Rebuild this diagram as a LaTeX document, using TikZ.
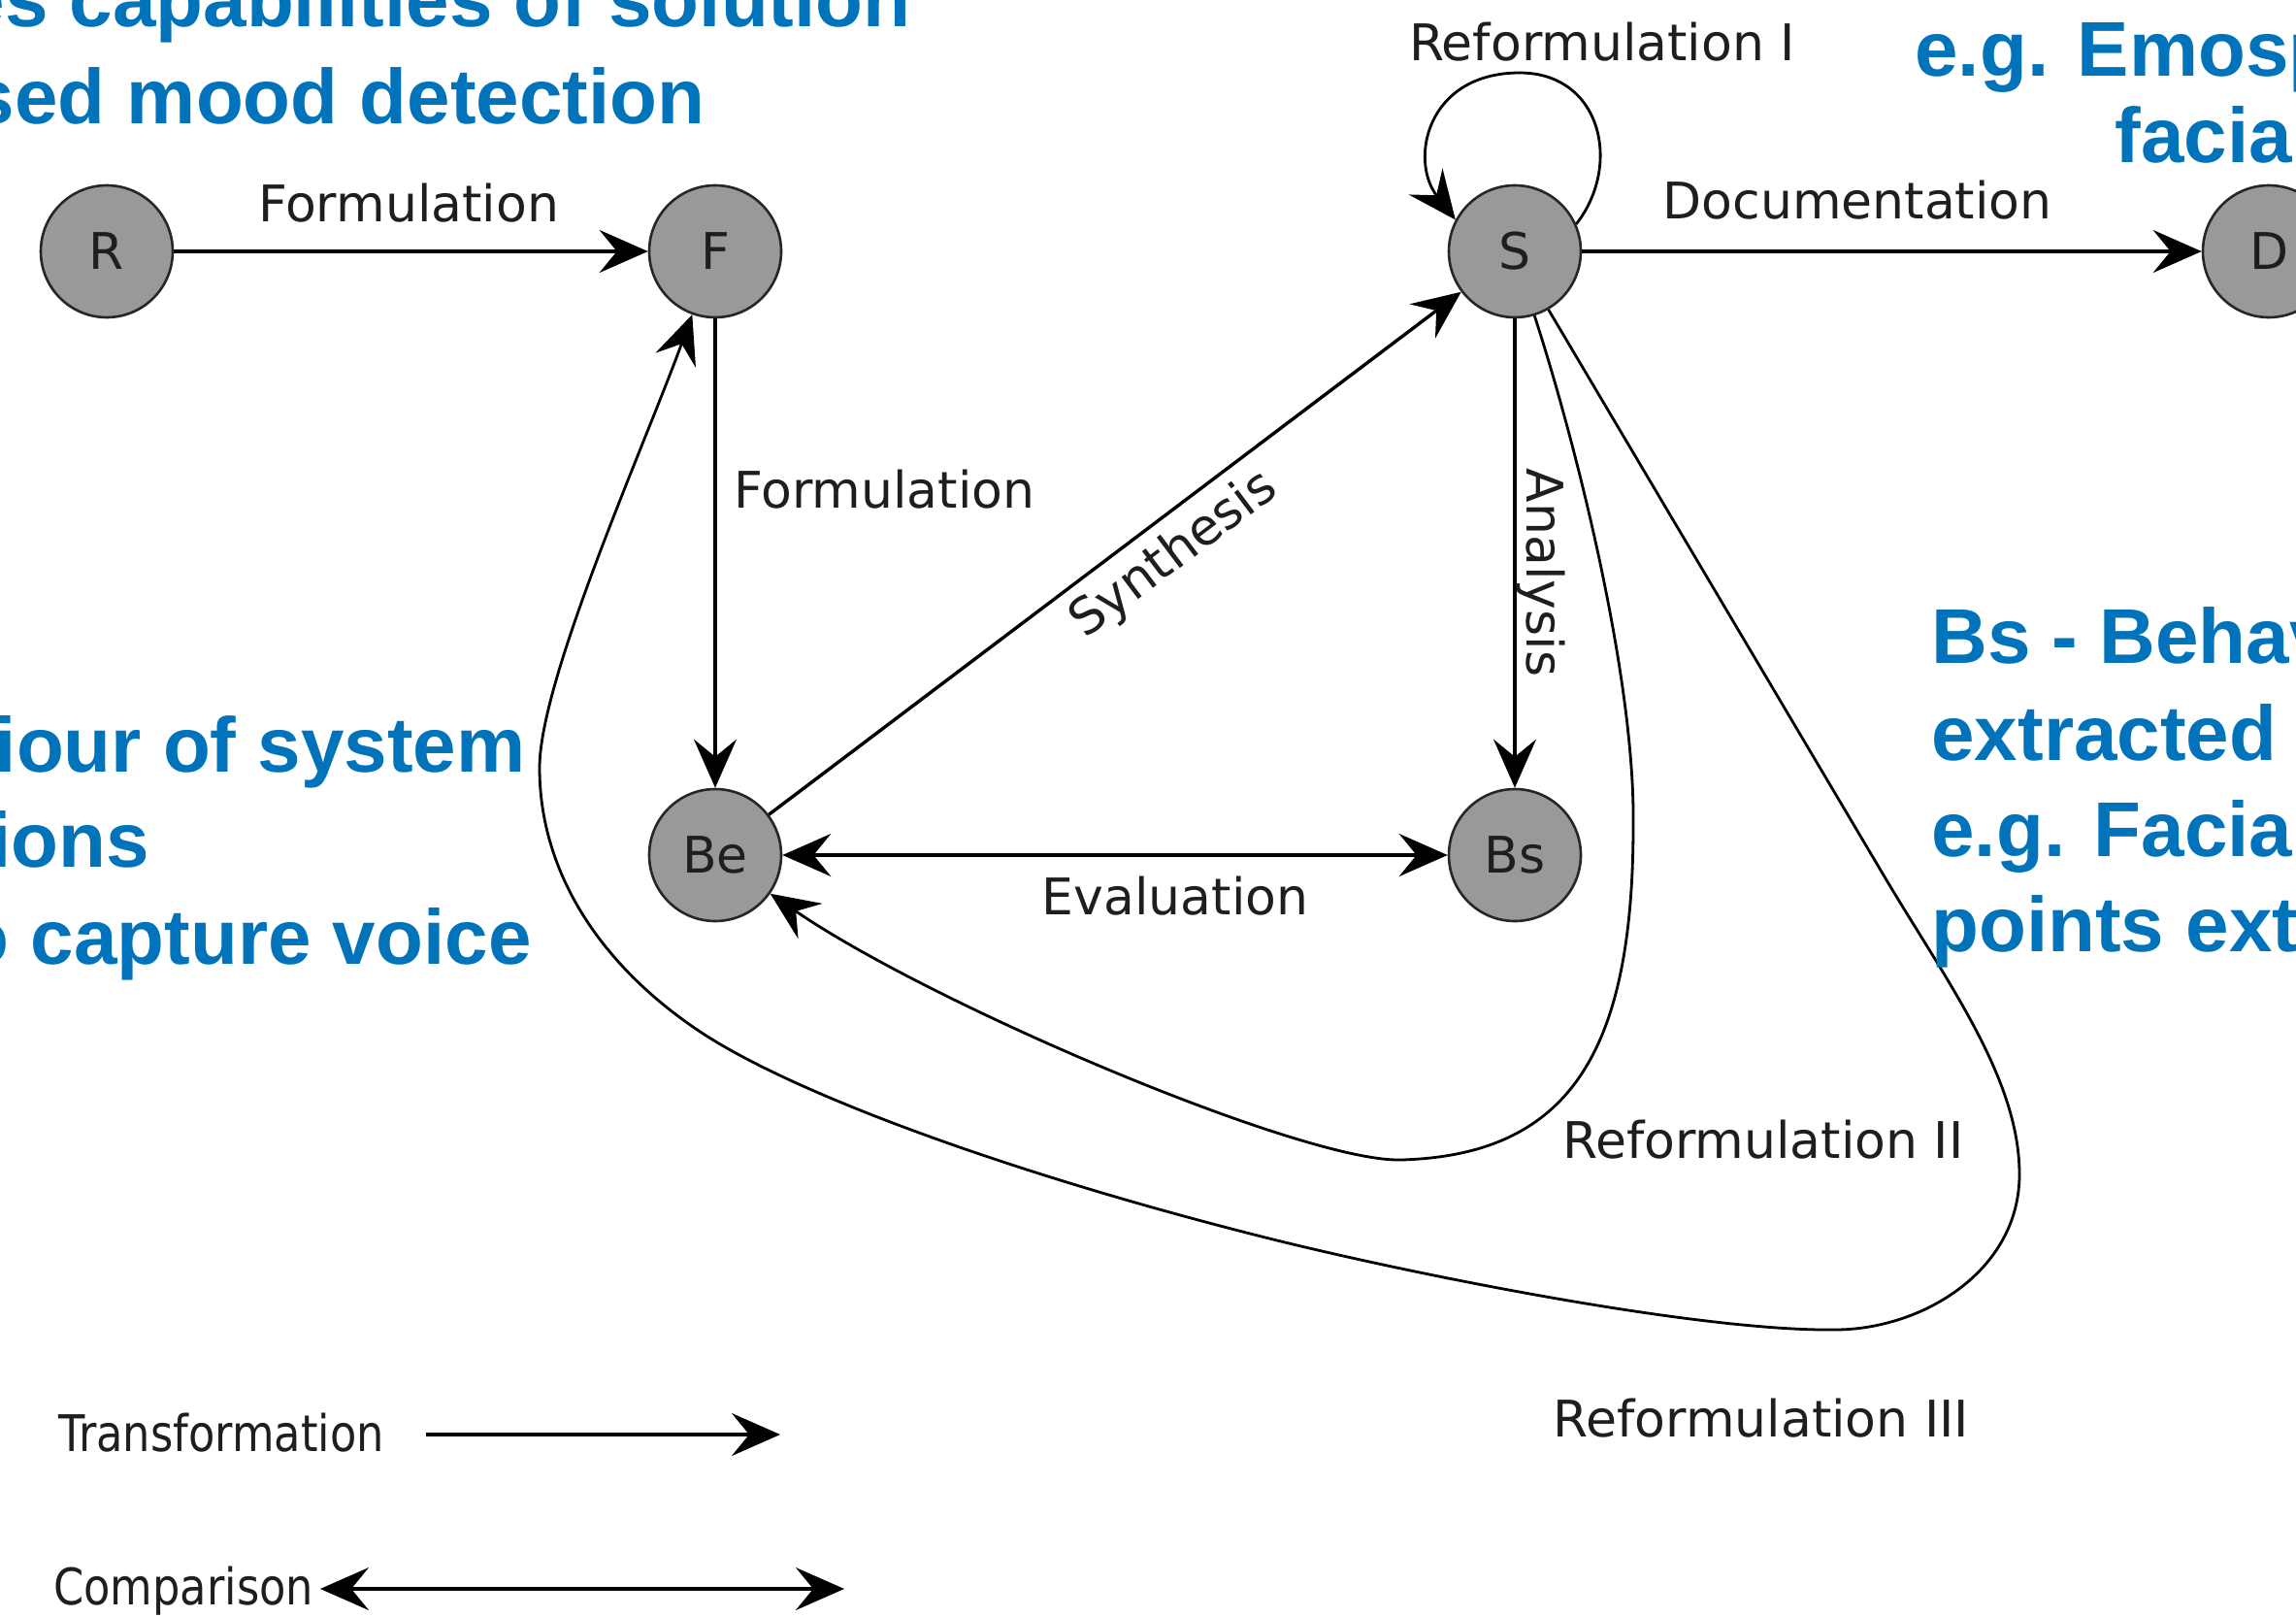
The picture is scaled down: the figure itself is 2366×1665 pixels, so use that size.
\documentclass[tikz,border=0pt]{standalone}
\usepackage{fontspec}
\usepackage{graphicx}
\setmainfont{DejaVu Sans}
\newfontfamily\notefont{Liberation Sans}
\usetikzlibrary{arrows.meta}
\definecolor{noteblue}{RGB}{0,115,186}
\definecolor{statefill}{RGB}{153,153,153}
\definecolor{ink}{RGB}{30,30,30}
\begin{document}
\begin{tikzpicture}[x=0.5pt,y=-0.5pt,
  >={Stealth[length=25pt,width=22pt,inset=9pt]},
  state/.style={circle, draw=black!85, line width=1.3pt, fill=statefill,
    minimum size=68pt, inner sep=0pt, text=ink,
    font=\fontsize{26}{26}\selectfont},
  lbl/.style={inner sep=0pt, text=ink, font=\fontsize{26}{26}\selectfont},
  flow/.style={line width=1.7pt, draw=black, ->},
  twoway/.style={line width=1.7pt, draw=black, <->},
  curveflow/.style={line width=1.4pt, draw=black, ->},
  bluenote/.style={inner sep=0pt, text=noteblue,
    font={\notefont\bfseries\fontsize{40}{40}\selectfont}}]

\useasboundingbox (0,0) rectangle (2366,1665);
\fill[white] (0,0) rectangle (2366,1665);
\clip (0,0) rectangle (2366,1665);

% states
\node[state] (R)  at (110,259)  {R};
\node[state] (F)  at (737,259)  {F};
\node[state] (S)  at (1561,259) {S};
\node[state] (D)  at (2338,259) {D};
\node[state] (Be) at (737,881)  {Be};
\node[state] (Bs) at (1561,881) {Bs};

% straight transitions
\draw[flow] (R) -- (F);
\draw[flow] (F) -- (Be);
\draw[flow] (Be) -- (S);
\draw[flow] (S) -- (Bs);
\draw[flow] (S) -- (D);
\draw[twoway] (Be) -- (Bs);

% Reformulation I: self loop on S
\draw[curveflow] (S.24) .. controls (1672,170) and (1650,75) .. (1566,75)
  .. controls (1470,75) and (1452,165) .. (S.152);

% Reformulation II: S back to Be
\draw[curveflow] (S.-73) .. controls (1625,460) and (1685,700) .. (1683,850)
  .. controls (1683,1080) and (1620,1190) .. (1444,1195)
  .. controls (1344,1198) and (960,1035) .. (Be.-35);

% Reformulation III: S back to F
\draw[curveflow] (S.-60) -- (1940,900)
  .. controls (2005,1010) and (2081,1110) .. (2081,1210)
  .. controls (2081,1310) and (1980,1370) .. (1891,1370)
  .. controls (1750,1372) and (1450,1312) .. (1300,1274)
  .. controls (1050,1211) and (820,1129) .. (720,1062)
  .. controls (620,995) and (556,900) .. (556,791)
  .. controls (556,700) and (665,457) .. (F.-110);

% transition labels
\node[lbl, anchor=base] (lFormA) at (421,228) {Formulation};
\node[lbl, anchor=base west] (lFormB) at (756,523) {Formulation};
\node[lbl, rotate=37] (lSyn) at (1210,572) {Synthesis};
\node[lbl, rotate=-90] (lAna) at (1588,590) {Analysis};
\node[lbl, anchor=base] (lEval) at (1211,942) {Evaluation};
\node[lbl, anchor=base] (lRefI) at (1651,62) {Reformulation I};
\node[lbl, anchor=base] (lDoc) at (1914,225) {Documentation};
\node[lbl, anchor=base] (lRefII) at (1817,1193) {Reformulation II};
\node[lbl, anchor=base] (lRefIII) at (1815,1480) {Reformulation III};

% legend
\node[lbl, anchor=base west] (lTrans) at (60,1495) {\scalebox{0.86}[1]{Transformation}};
\coordinate (tA) at (439,1478);
\coordinate (tB) at (804,1478);
\draw[flow] (tA) -- (tB);
\node[lbl, anchor=base west] (lComp) at (55,1653) {\scalebox{0.86}[1]{Comparison}};
\coordinate (cA) at (330,1637);
\coordinate (cB) at (870,1637);
\draw[twoway] (cA) -- (cB);

% annotations
\node[bluenote, anchor=base east] (nA1) at (939,27) {es capabilities of solution};
\node[bluenote, anchor=base east] (nA2) at (727,127) {sed mood detection};
\node[bluenote, anchor=base east] (nB1) at (542,795) {viour of system};
\node[bluenote, anchor=base east] (nB2) at (154,893) {ions};
\node[bluenote, anchor=base east] (nB3) at (548,993) {o capture voice};
\node[bluenote, anchor=base west] (nC1) at (1973,78) {e.g. Emosp};
\node[bluenote, anchor=base west] (nC2) at (2179,167) {facial};
\node[bluenote, anchor=base west] (nD1) at (1990,683) {Bs - Behav};
\node[bluenote, anchor=base west] (nD2) at (1990,783) {extracted};
\node[bluenote, anchor=base west] (nD3) at (1990,882) {e.g. Facial};
\node[bluenote, anchor=base west] (nD4) at (1990,980) {points ext};
\end{tikzpicture}
\end{document}
